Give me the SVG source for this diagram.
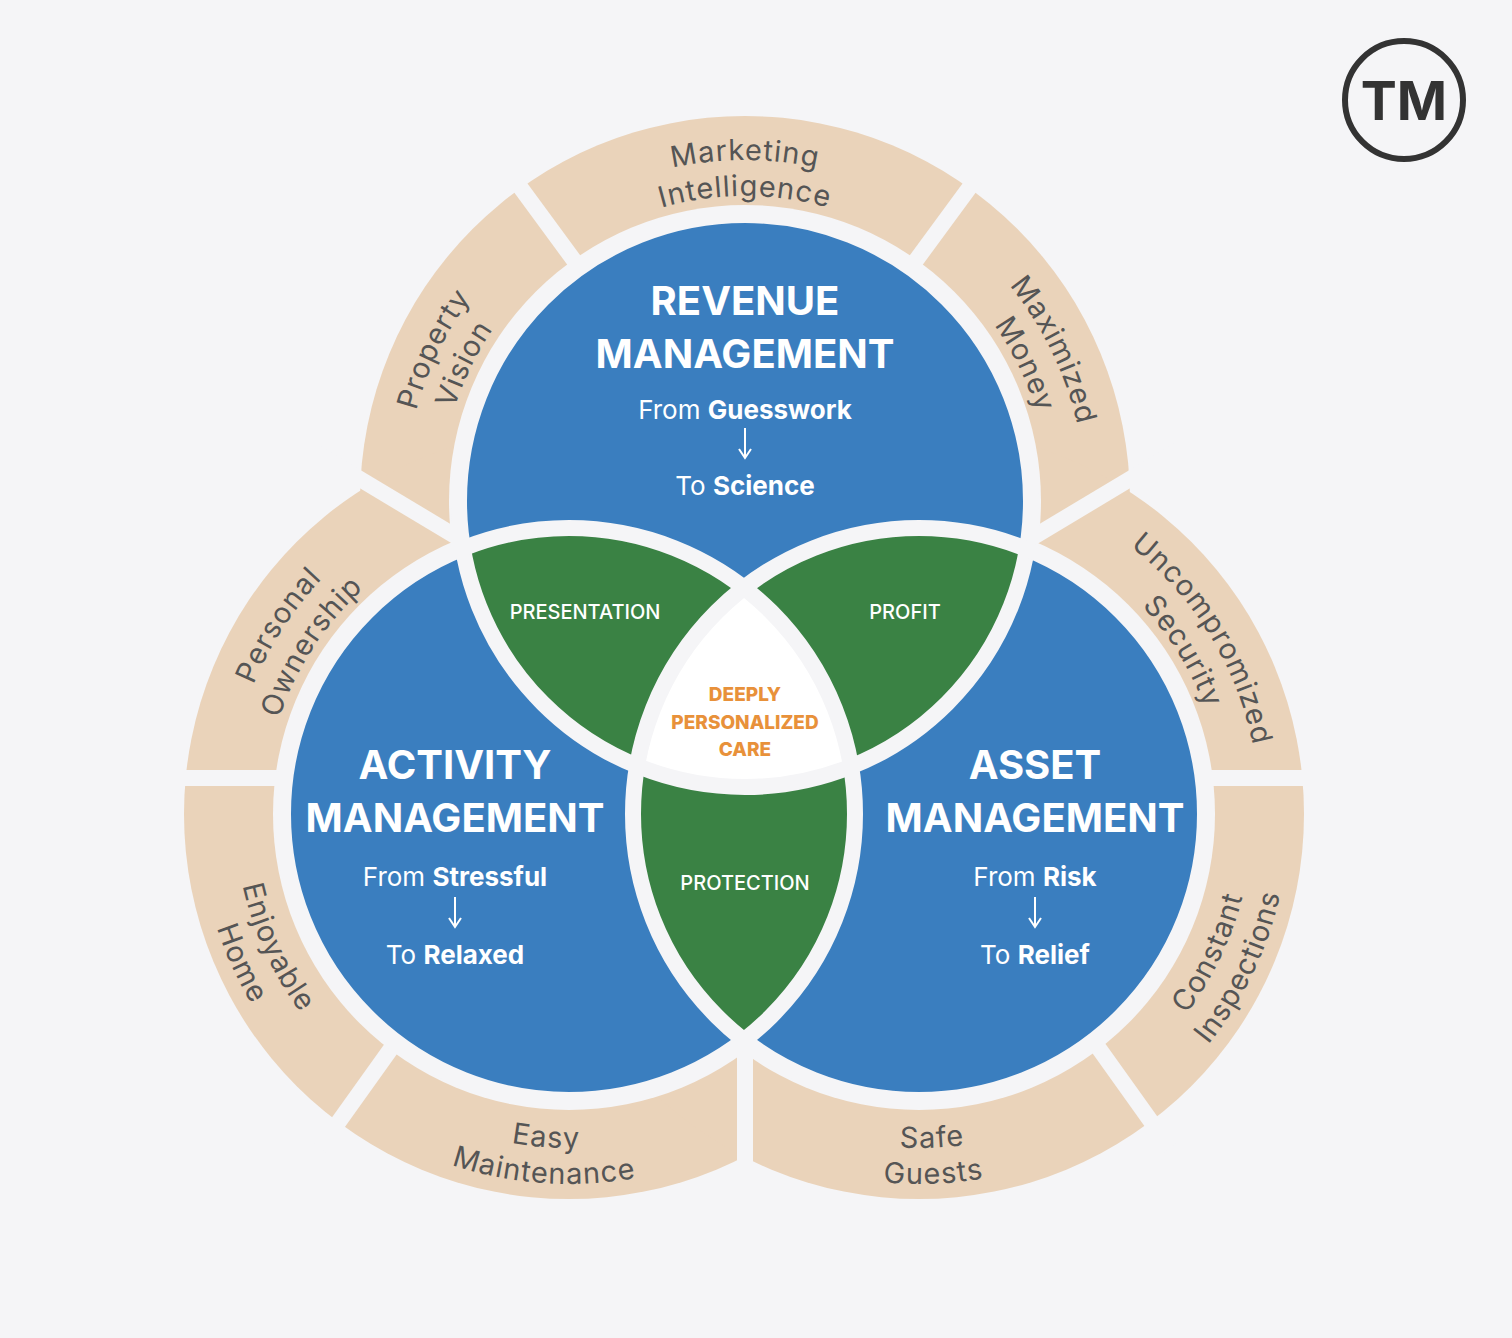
<svg xmlns="http://www.w3.org/2000/svg" width="1512" height="1338" viewBox="0 0 1512 1338">
<style>
.t{font-family:Inter,"Open Sans",sans-serif;fill:#fff;text-anchor:middle}
.h{font-size:40px;font-weight:700}
.s{font-size:26px}
.g{font-size:20px;font-weight:500}
.o{font-size:19px;font-weight:800;fill:#e8913a}
.r{font-family:Inter,"Open Sans",sans-serif;font-size:29px;fill:#555;letter-spacing:1px}
.gap{stroke:#f5f5f7;stroke-width:16}
</style>
<defs>
<clipPath id="cT"><circle cx="745" cy="501" r="286"/></clipPath>
<clipPath id="cL"><circle cx="569" cy="814" r="286"/></clipPath>
<clipPath id="cR"><circle cx="919" cy="814" r="286"/></clipPath>
<path id="p1a" d="M483.8,281.8 A341,341 0 0 1 1006.2,281.8"/>
<path id="p1b" d="M511.4,304.9 A305,305 0 0 1 978.6,304.9"/>
<path id="p2a" d="M433.5,639.7 A341,341 0 0 1 662.5,170.1"/>
<path id="p2b" d="M466.4,625 A305,305 0 0 1 671.2,205.1"/>
<path id="p3a" d="M827.5,170.1 A341,341 0 0 1 1056.5,639.7"/>
<path id="p3b" d="M818.8,205.1 A305,305 0 0 1 1023.6,625"/>
<path id="p4a" d="M242.9,913.7 A341,341 0 0 1 527.4,475.6"/>
<path id="p4b" d="M277.3,903.2 A305,305 0 0 1 531.8,511.3"/>
<path id="p5a" d="M267.5,670.2 A334,334 0 0 0 479.8,1135.8"/>
<path id="p5b" d="M235,654.7 A370,370 0 0 0 470.1,1170.5"/>
<path id="p6a" d="M298.8,1010.3 A334,334 0 0 0 809.2,1046"/>
<path id="p6b" d="M269.7,1031.5 A370,370 0 0 0 835.1,1071"/>
<path id="p7a" d="M968.8,476.6 A341,341 0 0 1 1242.6,921.6"/>
<path id="p7b" d="M963.6,512.3 A305,305 0 0 1 1208.4,910.3"/>
<path id="p8a" d="M1002.6,1137.3 A334,334 0 0 0 1222.9,675.5"/>
<path id="p8b" d="M1011.6,1172.2 A370,370 0 0 0 1255.7,660.6"/>
<path id="p9a" d="M672,1038.8 A334,334 0 0 0 1183.3,1018.2"/>
<path id="p9b" d="M645.3,1063 A370,370 0 0 0 1211.7,1040.3"/>
</defs>
<rect width="1512" height="1338" fill="#f5f5f7"/>
<g id="ring" fill="#ead3ba">
<circle cx="745" cy="501" r="385"/><circle cx="569" cy="814" r="385"/><circle cx="919" cy="814" r="385"/>
</g>
<g id="connectors" class="gap">
<line x1="490" y1="146" x2="620" y2="323"/><line x1="1000" y1="146" x2="870" y2="323"/>
<line x1="280" y1="431" x2="745" y2="710"/><line x1="1210" y1="431" x2="745" y2="710"/>
<line x1="745" y1="710" x2="745" y2="1240"/>
<line x1="170" y1="778" x2="320" y2="778"/><line x1="1190" y1="778" x2="1340" y2="778"/>
<line x1="320" y1="1148" x2="430" y2="994"/><line x1="1170" y1="1148" x2="1060" y2="994"/>
</g>
<g fill="#f5f5f7"><circle cx="745" cy="501" r="296"/><circle cx="569" cy="814" r="296"/><circle cx="919" cy="814" r="296"/></g>
<g id="circles" fill="#3a7ebf"><circle cx="745" cy="501" r="286"/><circle cx="569" cy="814" r="286"/><circle cx="919" cy="814" r="286"/></g>
<g id="lenses" fill="#3a8244">
<circle cx="569" cy="814" r="286" clip-path="url(#cT)"/>
<circle cx="919" cy="814" r="286" clip-path="url(#cT)"/>
<circle cx="919" cy="814" r="286" clip-path="url(#cL)"/>
</g>
<g id="center" clip-path="url(#cT)"><circle cx="919" cy="814" r="286" fill="#fff" clip-path="url(#cL)"/></g>
<g fill="none" stroke="#f5f5f7" stroke-width="16"><circle cx="745" cy="501" r="286"/><circle cx="569" cy="814" r="286"/><circle cx="919" cy="814" r="286"/></g>
<g id="revenue" class="t">
<text x="745" y="315" class="h">REVENUE</text><text x="745" y="368" class="h">MANAGEMENT</text>
<text x="745" y="419" class="s">From <tspan font-weight="700">Guesswork</tspan></text>
<text x="745" y="495" class="s">To <tspan font-weight="700">Science</tspan></text>
<path d="M745,428V456M739,449L745,458L751,449" stroke="#fff" stroke-width="2" fill="none"/>
</g>
<g id="activity" class="t">
<text x="455" y="779" class="h">ACTIVITY</text><text x="455" y="832" class="h">MANAGEMENT</text>
<text x="455" y="886" class="s">From <tspan font-weight="700">Stressful</tspan></text>
<text x="455" y="964" class="s">To <tspan font-weight="700">Relaxed</tspan></text>
<path d="M455,897V925M449,918L455,927L461,918" stroke="#fff" stroke-width="2" fill="none"/>
</g>
<g id="asset" class="t">
<text x="1035" y="779" class="h">ASSET</text><text x="1035" y="832" class="h">MANAGEMENT</text>
<text x="1035" y="886" class="s">From <tspan font-weight="700">Risk</tspan></text>
<text x="1035" y="964" class="s">To <tspan font-weight="700">Relief</tspan></text>
<path d="M1035,897V925M1029,918L1035,927L1041,918" stroke="#fff" stroke-width="2" fill="none"/>
</g>
<g id="overlaps" class="t">
<text x="585" y="619" class="g">PRESENTATION</text>
<text x="905" y="619" class="g">PROFIT</text>
<text x="745" y="890" class="g">PROTECTION</text>
<text x="745" y="701" class="o">DEEPLY</text><text x="745" y="729" class="o">PERSONALIZED</text><text x="745" y="756" class="o">CARE</text>
</g>
<g id="ringlabels" class="r" text-anchor="middle">
<text><textPath href="#p1a" startOffset="50%">Marketing</textPath></text>
<text><textPath href="#p1b" startOffset="50%">Intelligence</textPath></text>
<text><textPath href="#p2a" startOffset="50%">Property</textPath></text>
<text><textPath href="#p2b" startOffset="50%">Vision</textPath></text>
<text><textPath href="#p3a" startOffset="50%">Maximized</textPath></text>
<text><textPath href="#p3b" startOffset="50%">Money</textPath></text>
<text><textPath href="#p4a" startOffset="50%">Personal</textPath></text>
<text><textPath href="#p4b" startOffset="50%">Ownership</textPath></text>
<text><textPath href="#p5a" startOffset="50%">Enjoyable</textPath></text>
<text><textPath href="#p5b" startOffset="50%">Home</textPath></text>
<text><textPath href="#p6a" startOffset="50%">Easy</textPath></text>
<text><textPath href="#p6b" startOffset="50%">Maintenance</textPath></text>
<text><textPath href="#p7a" startOffset="50%">Uncompromized</textPath></text>
<text><textPath href="#p7b" startOffset="50%">Security</textPath></text>
<text><textPath href="#p8a" startOffset="50%">Constant</textPath></text>
<text><textPath href="#p8b" startOffset="50%">Inspections</textPath></text>
<text><textPath href="#p9a" startOffset="50%">Safe</textPath></text>
<text><textPath href="#p9b" startOffset="50%">Guests</textPath></text>
</g>
<g id="tm">
<circle cx="1404" cy="100" r="59" fill="none" stroke="#333" stroke-width="6"/>
<text x="1404" y="120" font-family="Inter,sans-serif" font-size="54" font-weight="700" fill="#333" text-anchor="middle">TM</text>
</g>
</svg>
